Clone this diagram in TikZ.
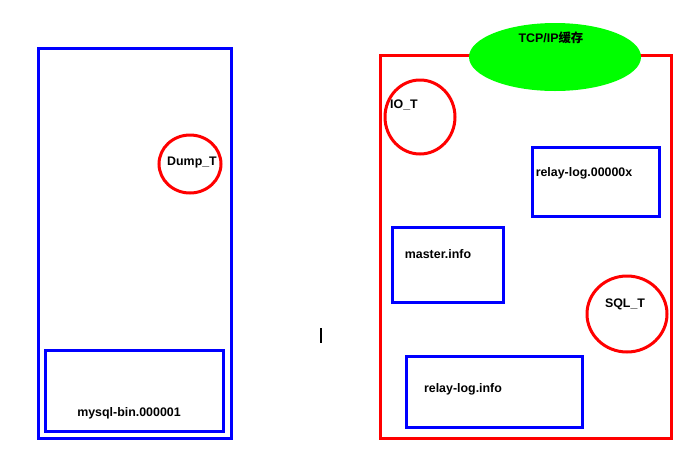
\documentclass[tikz,border=0pt]{standalone}
\usepackage{fontspec}
\setmainfont{Liberation Sans}
\newfontfamily\cjk{Noto Sans CJK SC}
\usetikzlibrary{shapes.geometric}
\begin{document}
\begin{tikzpicture}[x=1pt,y=-1pt,
  bluebox/.style={draw={rgb,255:red,0;green,0;blue,255},line width=3pt},
  redbox/.style={draw={rgb,255:red,255;green,0;blue,0},line width=3pt},
  lbl/.style={font=\fontsize{12.4}{14}\selectfont\bfseries,inner sep=0pt}]
\useasboundingbox (0,0) rectangle (694,453);
% left server
\draw[bluebox] (38,48) rectangle (231,438);
\draw[bluebox] (45,350) rectangle (223,431);
\node[lbl] (binlog) at (129,413) {mysql-bin.000001};
\draw[redbox] (190,164) ellipse [x radius=31,y radius=29];
\node[lbl] (dump) at (192,163) {Dump\_T};
% cursor
\coordinate (ca) at (321,328);
\coordinate (cb) at (321,343);
\draw[line width=1.6pt] (ca) -- (cb);
% right server
\draw[redbox] (380,55) rectangle (671,438);
\node[ellipse,fill={rgb,255:red,0;green,255;blue,0},minimum width=172,minimum height=68,inner sep=0pt] (tcp) at (555,57) {};
\node[lbl] (tcpl) at (551,38) {TCP/IP{\cjk 缓存}};
\draw[redbox] (420,117) ellipse [x radius=35,y radius=37];
\node[lbl] (io) at (404,105) {IO\_T};
\draw[bluebox] (532,147) rectangle (659,216);
\node[lbl] (rl) at (584,173) {relay-log.00000x};
\draw[bluebox] (392,227) rectangle (503,302);
\node[lbl] (mi) at (438,254) {master.info};
\draw[redbox] (627,314) ellipse [x radius=40,y radius=38];
\node[lbl] (sql) at (625,304) {SQL\_T};
\draw[bluebox] (406,356) rectangle (582,427);
\node[lbl] (ri) at (463,389) {relay-log.info};
\end{tikzpicture}
\end{document}
